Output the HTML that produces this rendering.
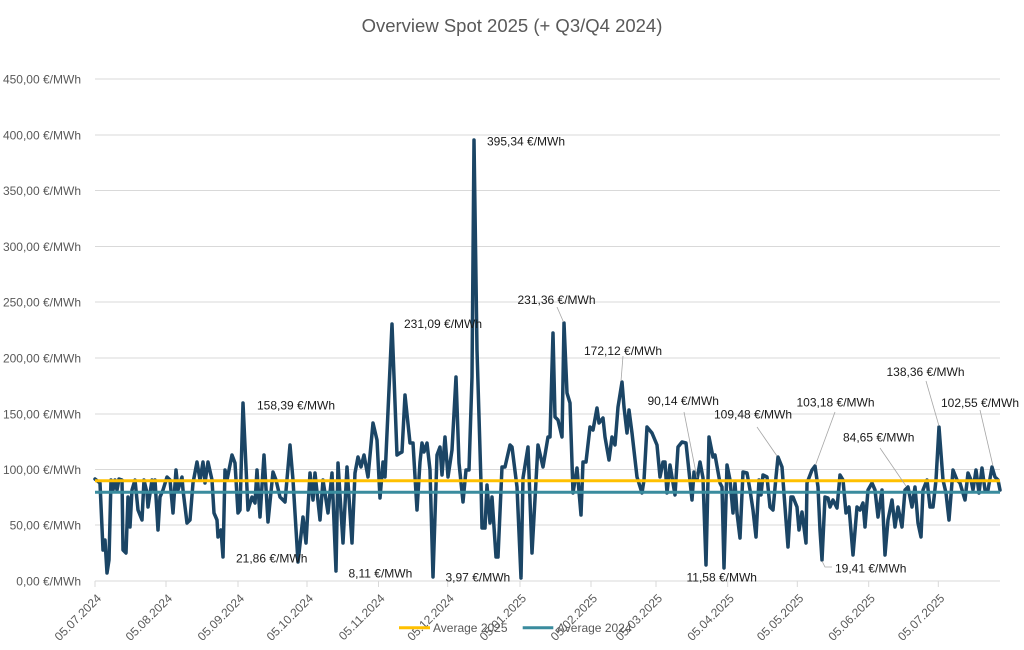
<!DOCTYPE html>
<html>
<head>
<meta charset="utf-8">
<style>
html,body{margin:0;padding:0;background:#fff;}
svg{display:block;}
text{font-family:"Liberation Sans",sans-serif;}
</style>
</head>
<body>
<svg width="1024" height="650" viewBox="0 0 1024 650" xmlns="http://www.w3.org/2000/svg">
<rect width="1024" height="650" fill="#fff"/>
<!-- title -->
<text x="512" y="32" font-size="18.5" fill="#595959" text-anchor="middle">Overview Spot 2025 (+ Q3/Q4 2024)</text>

<!-- gridlines -->
<g stroke="#d9d9d9" stroke-width="1">
<line x1="95" y1="79" x2="1000" y2="79"/>
<line x1="95" y1="135" x2="1000" y2="135"/>
<line x1="95" y1="190.5" x2="1000" y2="190.5"/>
<line x1="95" y1="246.5" x2="1000" y2="246.5"/>
<line x1="95" y1="302" x2="1000" y2="302"/>
<line x1="95" y1="358" x2="1000" y2="358"/>
<line x1="95" y1="414" x2="1000" y2="414"/>
<line x1="95" y1="469.5" x2="1000" y2="469.5"/>
<line x1="95" y1="525" x2="1000" y2="525"/>
<line x1="95" y1="581" x2="1000" y2="581"/>
<line x1="95" y1="581" x2="95" y2="587"/>
<line x1="166" y1="581" x2="166" y2="587"/>
<line x1="238" y1="581" x2="238" y2="587"/>
<line x1="307" y1="581" x2="307" y2="587"/>
<line x1="378.5" y1="581" x2="378.5" y2="587"/>
<line x1="447.7" y1="581" x2="447.7" y2="587"/>
<line x1="520" y1="581" x2="520" y2="587"/>
<line x1="591" y1="581" x2="591" y2="587"/>
<line x1="656" y1="581" x2="656" y2="587"/>
<line x1="727.7" y1="581" x2="727.7" y2="587"/>
<line x1="797.3" y1="581" x2="797.3" y2="587"/>
<line x1="868.7" y1="581" x2="868.7" y2="587"/>
<line x1="938.3" y1="581" x2="938.3" y2="587"/>
</g>

<!-- y labels -->
<g font-size="12" fill="#595959" text-anchor="end">
<text x="81" y="83.5">450,00 €/MWh</text>
<text x="81" y="139.5">400,00 €/MWh</text>
<text x="81" y="195">350,00 €/MWh</text>
<text x="81" y="251">300,00 €/MWh</text>
<text x="81" y="306.5">250,00 €/MWh</text>
<text x="81" y="362.5">200,00 €/MWh</text>
<text x="81" y="418.5">150,00 €/MWh</text>
<text x="81" y="474">100,00 €/MWh</text>
<text x="81" y="529.5">50,00 €/MWh</text>
<text x="81" y="585.5">0,00 €/MWh</text>
</g>

<!-- x labels -->
<g font-size="12" fill="#595959" text-anchor="end">
<text transform="translate(99,596) rotate(-45)" dy="0.35em">05.07.2024</text>
<text transform="translate(170,596) rotate(-45)" dy="0.35em">05.08.2024</text>
<text transform="translate(242,596) rotate(-45)" dy="0.35em">05.09.2024</text>
<text transform="translate(311,596) rotate(-45)" dy="0.35em">05.10.2024</text>
<text transform="translate(382.5,596) rotate(-45)" dy="0.35em">05.11.2024</text>
<text transform="translate(451.7,596) rotate(-45)" dy="0.35em">05.12.2024</text>
<text transform="translate(524,596) rotate(-45)" dy="0.35em">05.01.2025</text>
<text transform="translate(595,596) rotate(-45)" dy="0.35em">05.02.2025</text>
<text transform="translate(660,596) rotate(-45)" dy="0.35em">05.03.2025</text>
<text transform="translate(731.7,596) rotate(-45)" dy="0.35em">05.04.2025</text>
<text transform="translate(801.3,596) rotate(-45)" dy="0.35em">05.05.2025</text>
<text transform="translate(872.7,596) rotate(-45)" dy="0.35em">05.06.2025</text>
<text transform="translate(942.3,596) rotate(-45)" dy="0.35em">05.07.2025</text>
</g>

<!-- series -->
<polyline fill="none" stroke="#1b4565" stroke-width="3.5" stroke-linejoin="round" stroke-linecap="round" points="
95,479 100,483 103,550 105,540 107,573 109,560 111,480 113,490 115,480 117,490 119,479 122,480 123,550 126,553 128,497 130,527 132,490 135,480 138,510 142,520 144,480 147,493 148,507 152,480 154,490 155,480 158,530 160,497 163,490 167,477 170,480 173,513 176,470 178,490 182,477 183,490 187,523 190,520 193,483 197,462 200,480 203,462 205,483 208,462 212,480 214,513 217,520 218,537 221,530 223,557 225,470 227,480 229,470 232,455 235,463 238,513 240,510 243,403
248,510 252,497 255,503 257,470 260,517 264,455 268,522 273,472 276,480 280,497 285,502 290,445 293,480 298,562 303,517 306,543 310,473 313,500 315,473 320,520 323,480 328,513 332,473 336,571 338,463 343,543 347,467 352,543 355,473 358,457 361,467 364,455 368,477 373,423 377,440 380,498 383,462 385,477 392,324 397,455 400,453
402,452 405,395 410,443 413,443 417,510 420,462 422,443 424,452 427,443 430,470 433,577 437,455 440,447 442,475 445,437 448,477 452,450 456,377 459,463 463,502 466,470 469,470 472,377 474,140 477,350 481,483 482,528 485,528 487,485 490,523 492,497 496,557 498,557 502,467 505,467 510,445 512,447 517,487 521,578 523,478 528,447 532,553 538,445 543,467 548,437 550,437 553,333 555,417 558,420 562,437 564,323
567,393 570,403 573,493 577,468 581,515 583,462 586,462 590,427 593,430 597,408 599,423 603,418 605,437 609,460 612,437 615,445 618,407 622,382 624,407 627,433 629,410 632,433 637,477 642,493 644,480 647,427 652,433 657,445 660,477 663,462 665,462 667,493 670,465 675,495 678,447 682,442 686,443 692,500 694,472 697,480 700,462 703,478 706,565 709,437 713,457 715,455 720,483 722,487 724,568 727,465 730,480
733,513 735,483 737,513 740,538 743,472 747,473 750,490 753,510 756,537 759,480 761,495 763,475 767,477 770,507 773,510 776,477 778,457 782,467 785,507 788,547 791,497 793,497 797,507 799,530 802,512 806,543 807,483 812,470 815,466 818,487 820,530 822,560 825,497 828,498 830,507 833,500 837,508 840,475 843,480 846,513 849,507 853,555 857,507 860,510 863,503 865,527 868,490 872,483 875,490 878,517 882,490 885,555 888,520 892,500 895,527 898,507 902,527 905,490 908,487 912,507 915,487 918,523 921,537 923,490 927,480 930,507 933,507 936,480 939,427 943,480 946,493 949,520 953,470 957,480 960,483 965,500 968,473 971,480 973,490 976,470 979,493 982,468 985,490 988,490 992,467 995,477 998,480 1000,490"/>

<!-- averages -->
<line x1="95" y1="480.7" x2="1000" y2="480.7" stroke="#ffc000" stroke-width="3"/>
<line x1="95" y1="492.3" x2="1000" y2="492.3" stroke="#3a8c9e" stroke-width="3"/>

<!-- leader lines -->
<g stroke="#a6a6a6" stroke-width="0.8" fill="none">
<line x1="557" y1="307" x2="563.5" y2="322"/>
<line x1="623" y1="356" x2="621" y2="381"/>
<line x1="684" y1="412" x2="697" y2="478"/>
<line x1="757" y1="427" x2="777" y2="456"/>
<line x1="835" y1="412" x2="815.5" y2="465"/>
<line x1="880" y1="448" x2="906" y2="486"/>
<line x1="926" y1="381" x2="939" y2="426"/>
<line x1="980" y1="410" x2="993" y2="466"/>
<polyline points="822,561 825,567 832,567"/>
</g>

<!-- data labels -->
<g font-size="12" fill="#1a1a1a">
<text x="487" y="145.5">395,34 €/MWh</text>
<text x="404" y="328">231,09 €/MWh</text>
<text x="517.5" y="304">231,36 €/MWh</text>
<text x="584" y="355">172,12 €/MWh</text>
<text x="257" y="409.5">158,39 €/MWh</text>
<text x="647.5" y="405">90,14 €/MWh</text>
<text x="714" y="418.5">109,48 €/MWh</text>
<text x="796.5" y="406.5">103,18 €/MWh</text>
<text x="886.5" y="376">138,36 €/MWh</text>
<text x="941" y="407">102,55 €/MWh</text>
<text x="843" y="441.5">84,65 €/MWh</text>
<text x="236" y="562.5">21,86 €/MWh</text>
<text x="348.5" y="577.5">8,11 €/MWh</text>
<text x="445.5" y="581.5">3,97 €/MWh</text>
<text x="686.5" y="581.5">11,58 €/MWh</text>
<text x="835" y="572.5">19,41 €/MWh</text>
</g>

<!-- legend -->
<line x1="399" y1="627.7" x2="430" y2="627.7" stroke="#ffc000" stroke-width="3"/>
<text x="433" y="632" font-size="12" fill="#595959">Average 2025</text>
<line x1="522.7" y1="627.7" x2="553.3" y2="627.7" stroke="#3a8c9e" stroke-width="3"/>
<text x="557" y="632" font-size="12" fill="#595959">Average 2024</text>
</svg>
</body>
</html>
